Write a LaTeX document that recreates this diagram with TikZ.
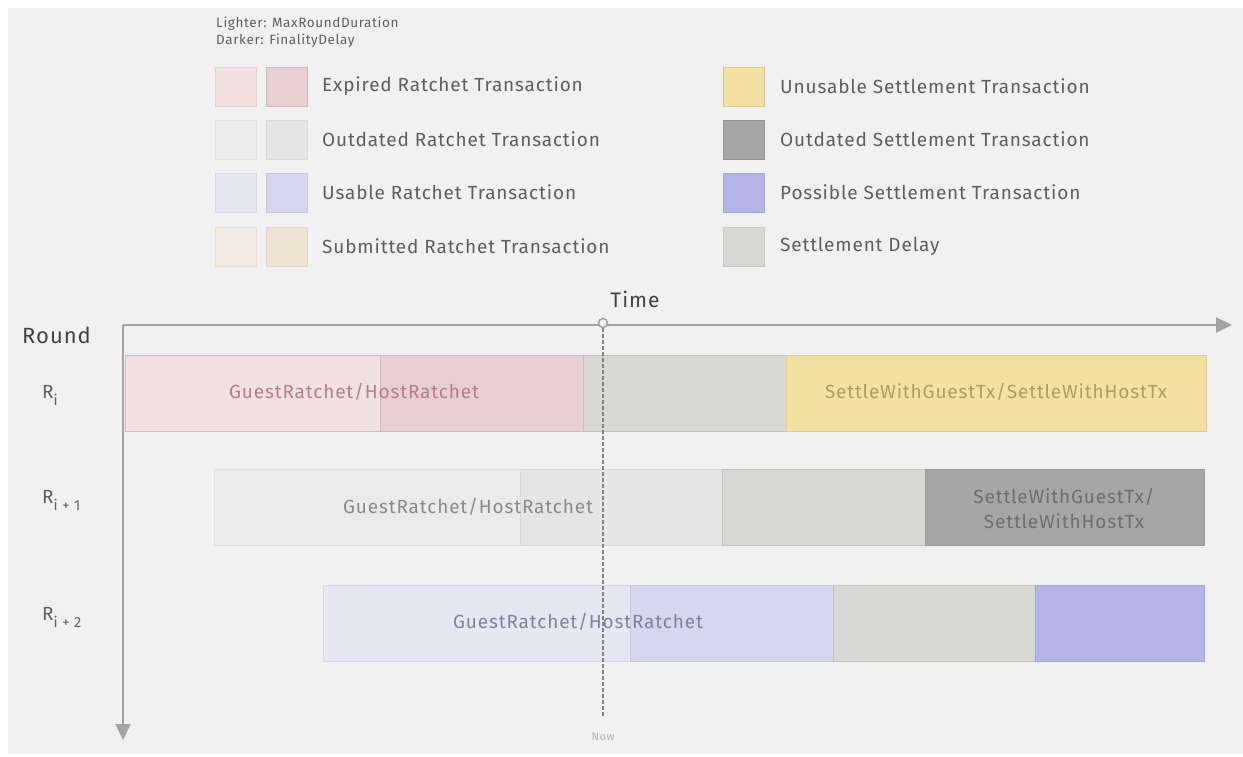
\documentclass[tikz,border=0pt]{standalone}
\usepackage{fontspec}
\setmainfont{Fira Sans}[LetterSpace=4.5]
\usetikzlibrary{arrows.meta}
\definecolor{bg}{HTML}{F1F1F1}
\definecolor{axisc}{HTML}{A3A3A3}
\definecolor{txt}{HTML}{5E5E5E}
\definecolor{exL}{HTML}{F2E1E1}
\definecolor{exD}{HTML}{E8CFD1}
\definecolor{odL}{HTML}{EBEBEB}
\definecolor{odD}{HTML}{E5E5E5}
\definecolor{usL}{HTML}{E7E6F3}
\definecolor{usD}{HTML}{D6D7EE}
\definecolor{suL}{HTML}{F1EAE3}
\definecolor{suD}{HTML}{EEE2D3}
\definecolor{yel}{HTML}{F2E1A0}
\definecolor{dgr}{HTML}{A6A6A6}
\definecolor{pur}{HTML}{B4B5E6}
\definecolor{dly}{HTML}{D8D8D4}
\definecolor{exT}{HTML}{B47F86}
\definecolor{yeT}{HTML}{AE9D5C}
\definecolor{odT}{HTML}{8A8A8A}
\definecolor{dgT}{HTML}{6E6E6E}
\definecolor{usT}{HTML}{82829E}
\newcommand{\rsub}[1]{\raisebox{-7pt}{\fontsize{14.5}{16}\selectfont #1}}
\tikzset{
  sq/.style={rectangle, anchor=north west, minimum width=41, minimum height=39, inner sep=0, line width=0.8},
  legtxt/.style={anchor=west, text=txt, font=\fontsize{19}{22}\selectfont, inner sep=0},
  seg/.style={rectangle, anchor=north west, minimum height=76, inner sep=0, line width=0.8},
  bartxt/.style={font=\fontsize{19}{25}\selectfont, inner sep=0, align=center},
  axis/.style={draw=axisc, line width=2, -{Triangle[length=16,width=15]}},
  rowlab/.style={anchor=base west, text=txt, font=\fontsize{19}{24}\selectfont, inner sep=0}
}
\begin{document}
\begin{tikzpicture}[x=1pt,y=-1pt]
\useasboundingbox (0,0) rectangle (1243,756);
\fill[bg] (8,8) rectangle (1243,754);
% header
\node[anchor=west, text=txt, font=\fontsize{13.5}{16}\selectfont, inner sep=0] (hd1) at (216,24) {Lighter: MaxRoundDuration};
\node[anchor=west, text=txt, font=\fontsize{13.5}{16}\selectfont, inner sep=0] (hd2) at (216,41) {Darker: FinalityDelay};
% legend left
\node[sq, fill=exL, draw=exD] (l1a) at (215,67) {};
\node[sq, fill=exD, draw=exD!90!black] (l1b) at (266,67) {};
\node[legtxt] (t1) at (322,86) {Expired Ratchet Transaction};
\node[sq, fill=odL, draw=odL!95!black] (l2a) at (215,120) {};
\node[sq, fill=odD, draw=odD!95!black] (l2b) at (266,120) {};
\node[legtxt] (t2) at (322,139) {Outdated Ratchet Transaction};
\node[sq, fill=usL, draw=usL!93!black] (l3a) at (215,173) {};
\node[sq, fill=usD, draw=usD!93!black] (l3b) at (266,173) {};
\node[legtxt] (t3) at (322,192) {Usable Ratchet Transaction};
\node[sq, fill=suL, draw=suL!95!black] (l4a) at (215,227) {};
\node[sq, fill=suD, draw=suD!95!black] (l4b) at (266,227) {};
\node[legtxt] (t4) at (322,246) {Submitted Ratchet Transaction};
% legend right
\node[sq, fill=yel, draw=yel!90!black] (r1) at (723,67) {};
\node[legtxt] (u1) at (780,86) {Unusable Settlement Transaction};
\node[sq, fill=dgr, draw=dgr!90!black] (r2) at (723,120) {};
\node[legtxt] (u2) at (780,139) {Outdated Settlement Transaction};
\node[sq, fill=pur, draw=pur!92!black] (r3) at (723,173) {};
\node[legtxt] (u3) at (780,192) {Possible Settlement Transaction};
\node[sq, fill=dly, draw=dly!92!black] (r4) at (723,227) {};
\node[legtxt] (u4) at (780,246) {Settlement Delay};
% axes labels
\node[text=txt!70!black, font=\fontsize{21}{24}\selectfont, inner sep=0] (time) at (635,299) {Time};
\node[anchor=west, text=txt!70!black, font=\fontsize{22}{26}\selectfont, inner sep=0] (round) at (22,335) {Round};
% row Ri
\node[seg, minimum width=255, fill=exL, draw=exD!90!black] (a1) at (125,355) {};
\node[seg, minimum width=203, fill=exD, draw=exD!90!black] (a2) at (380,355) {};
\node[seg, minimum width=203, fill=dly, draw=dly!90!black] (a3) at (583,355) {};
\node[seg, minimum width=420, fill=yel, draw=yel!92!black] (a4) at (786,355) {};
\node[bartxt, text=exT] (at) at (354,392) {GuestRatchet/HostRatchet};
\node[bartxt, text=yeT] (as) at (996,392) {SettleWithGuestTx/SettleWithHostTx};
% row Ri+1
\node[seg, minimum width=306, fill=odL, draw=odL!95!black] (b1) at (214,469) {};
\node[seg, minimum width=202, fill=odD, draw=odD!95!black] (b2) at (520,469) {};
\node[seg, minimum width=203, fill=dly, draw=dly!90!black] (b3) at (722,469) {};
\node[seg, minimum width=279, fill=dgr, draw=dgr!92!black] (b4) at (925,469) {};
\node[bartxt, text=odT] (bt) at (468,507) {GuestRatchet/HostRatchet};
\node[bartxt, text=dgT] (bs) at (1064,508) {SettleWithGuestTx/\\SettleWithHostTx};
% row Ri+2
\node[seg, minimum width=307, fill=usL, draw=usL!93!black] (c1) at (323,585) {};
\node[seg, minimum width=203, fill=usD, draw=usD!93!black] (c2) at (630,585) {};
\node[seg, minimum width=202, fill=dly, draw=dly!90!black] (c3) at (833,585) {};
\node[seg, minimum width=169, fill=pur, draw=pur!92!black] (c4) at (1035,585) {};
\node[bartxt, text=usT] (ct) at (578,622) {GuestRatchet/HostRatchet};
% row labels
\node[rowlab] (ri) at (42,398) {R\rsub{i}};
\node[rowlab] (ri1) at (42,503) {R\rsub{i + 1}};
\node[rowlab] (ri2) at (42,620) {R\rsub{i + 2}};
% axes
\coordinate (o) at (123,325);
\coordinate (tend) at (1232,325);
\coordinate (vend) at (123,740);
\draw[axis] (o) -- (tend);
\draw[axis] (o) -- (vend);
% now
\coordinate (nowend) at (603,718);
\node[circle, draw=axisc, fill=bg, line width=1.5, minimum size=9, inner sep=0] (nowdot) at (603,323) {};
\draw[axisc!80!black, line width=1.2, dash pattern=on 4 off 2] (nowdot.south) -- (nowend);
\node[text=axisc!80, font=\fontsize{11}{13}\selectfont, inner sep=0] (nowlab) at (603,737) {Now};
\end{tikzpicture}
\end{document}
